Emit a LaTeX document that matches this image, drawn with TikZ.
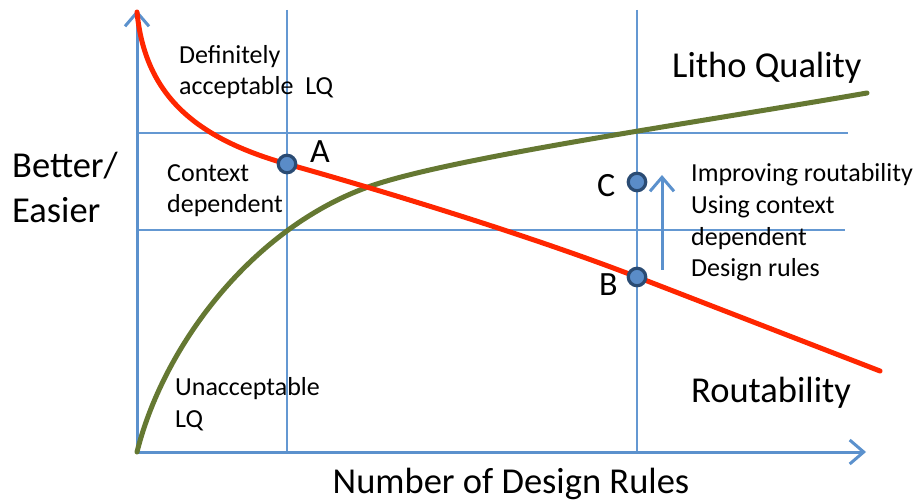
\documentclass[tikz,border=0pt]{standalone}
\usepackage{fontspec}
\setmainfont{Carlito}
\usetikzlibrary{arrows.meta}
\definecolor{gridblue}{RGB}{100,152,210}
\definecolor{axisblue}{RGB}{91,145,205}
\definecolor{curvered}{RGB}{255,38,0}
\definecolor{curvegreen}{RGB}{101,120,50}
\definecolor{ptfill}{RGB}{90,140,200}
\definecolor{ptedge}{RGB}{42,75,115}
\begin{document}
\begin{tikzpicture}[x=1pt,y=-1pt,
  gridline/.style={draw=gridblue,line width=1.5pt},
  axisline/.style={draw=axisblue,line width=3pt,-{Straight Barb[length=14pt,width=24pt]}},
  curve/.style={line width=5pt,line cap=round,line join=round},
  pt/.style={circle,draw=ptedge,fill=ptfill,line width=3.2pt,minimum size=17.5pt,inner sep=0pt},
  small/.style={font=\fontsize{26}{31.7}\selectfont,align=left,anchor=base west,inner sep=0pt},
  big/.style={font=\fontsize{36.5}{45}\selectfont,align=left,anchor=base west,inner sep=0pt},
  letter/.style={font=\fontsize{34}{40}\selectfont,anchor=base west,inner sep=0pt}]
\useasboundingbox (0,0) rectangle (920,502);
% grid
\coordinate (o) at (137,452);
\coordinate (ytip) at (137,10);
\coordinate (xtip) at (866,452);
\draw[gridline] (287,10) -- (287,452);
\draw[gridline] (637,10) -- (637,452);
\draw[gridline] (139,133) -- (848,133);
\draw[gridline] (139,230) -- (845,230);
% axes
\draw[axisline] (o) -- (ytip);
\draw[axisline] (o) -- (xtip);
% points (coordinates)
\coordinate (pA) at (287,164);
\coordinate (pB) at (637,277);
\coordinate (pC) at (637,182);
% curves
\coordinate (gmid) at (380,183);
\coordinate (gend) at (867,93);
\draw[curve,curvegreen] (o) .. controls (165,340) and (260,220) .. (gmid)
  .. controls (470,155) and (700,122) .. (gend);
\coordinate (rstart) at (137,12);
\coordinate (rend) at (880,371);
\draw[curve,curvered] (rstart) .. controls (145,95) and (195,138) .. (pA)
  .. controls (380,190) and (530,235.6) .. (pB) -- (rend);
\node[pt] (A) at (pA) {};
\node[pt] (C) at (pC) {};
\node[pt] (B) at (pB) {};
\node[letter] (lA) at (310,163) {A};
\node[letter] (lC) at (597,197) {C};
\node[letter] (lB) at (599,296) {B};
% improvement arrow
\coordinate (arrs) at (662,270);
\coordinate (arre) at (662,175);
\draw[draw=axisblue,line width=3pt,-{Straight Barb[length=14pt,width=24pt]}] (arrs) -- (arre);
% texts
\node[small] (t1) at (179,95) {Definitely\\acceptable\ \ LQ};
\node[small] (t2) at (167,213) {Context\\dependent};
\node[small] (t3) at (691,277) {Improving routability\\Using context\\dependent\\Design rules};
\node[small] (t4) at (175,427) {Unacceptable\\LQ};
\node[big] (litho) at (672,78) {Litho Quality};
\node[big] (rout) at (691,402) {Routability};
\node[big] (yl) at (12,223) {Better/\\Easier};
\node[big,anchor=base] (xl) at (511,493) {Number of Design Rules};
\end{tikzpicture}
\end{document}
